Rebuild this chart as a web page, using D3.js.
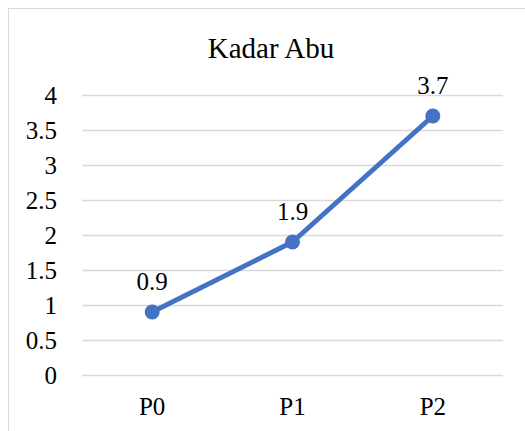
<!DOCTYPE html>
<html>
<head>
<meta charset="utf-8">
<script src="https://cdn.jsdelivr.net/npm/d3@7"></script>
<style>
  body { margin: 0; background: #fff; }
  svg text { font-family: "Times New Roman", "Liberation Serif", Tinos, "DejaVu Serif", serif !important; fill: #000; }
</style>
</head>
<body>
<div id="container"></div>
<script>
// Data
const categories = ["P0", "P1", "P2"];
const values = [0.9, 1.9, 3.7];
const yTicks = [0, 0.5, 1, 1.5, 2, 2.5, 3, 3.5, 4];
const title = "Kadar Abu";

// Dimensions
const width = 525;
const height = 431;
const marginTop = 95;
const marginRight = 22;
const marginBottom = 56;
const marginLeft = 82;

const x = d3.scaleBand()
  .domain(categories)
  .range([marginLeft, width - marginRight]);

const y = d3.scaleLinear()
  .domain([0, 4])
  .range([height - marginBottom, marginTop]);

const svg = d3.create("svg").attr("width", width).attr("height", height);
document.getElementById("container").appendChild(svg.node());

// chart border (right and bottom edges fall outside the picture)
svg.append("rect")
  .attr("x", 8.5).attr("y", 8.5)
  .attr("width", width + 10).attr("height", height + 10)
  .attr("fill", "none")
  .attr("stroke", "#d9d9d9")
  .attr("stroke-width", 1);

// title
svg.append("text")
  .attr("x", 271)
  .attr("y", 58)
  .attr("text-anchor", "middle")
  .attr("font-size", "29px")
  .text(title);

// y axis with gridlines
const yAxis = svg.append("g")
  .attr("transform", `translate(${marginLeft},0)`)
  .call(d3.axisLeft(y).tickValues(yTicks).tickSize(-(width - marginLeft - marginRight)).tickPadding(25).tickFormat(d3.format("")));
yAxis.attr("font-family", null);
yAxis.select(".domain").remove();
yAxis.selectAll(".tick line").attr("stroke", "#d9d9d9").attr("stroke-width", 1.3);
yAxis.selectAll(".tick text").attr("font-size", "25px").attr("fill", "#000");

// x axis labels
const xAxis = svg.append("g")
  .attr("transform", `translate(0,${height - marginBottom})`)
  .call(d3.axisBottom(x).tickSize(0).tickPadding(22));
xAxis.attr("font-family", null);
xAxis.select(".domain").remove();
xAxis.selectAll(".tick text").attr("font-size", "25px").attr("fill", "#000");

const cx = (d, i) => x(categories[i]) + x.bandwidth() / 2;

// line
svg.append("path")
  .datum(values)
  .attr("fill", "none")
  .attr("stroke", "#4472c4")
  .attr("stroke-width", 5)
  .attr("stroke-linejoin", "round")
  .attr("d", d3.line().x(cx).y(d => y(d)));

// markers
svg.selectAll("circle")
  .data(values)
  .enter()
  .append("circle")
  .attr("cx", cx)
  .attr("cy", d => y(d))
  .attr("r", 7.5)
  .attr("fill", "#4472c4");

// data labels
svg.selectAll("text.label")
  .data(values)
  .enter()
  .append("text")
  .attr("class", "label")
  .attr("x", cx)
  .attr("y", d => y(d) - 22)
  .attr("text-anchor", "middle")
  .attr("font-size", "25px")
  .text(d => d);
</script>
</body>
</html>
